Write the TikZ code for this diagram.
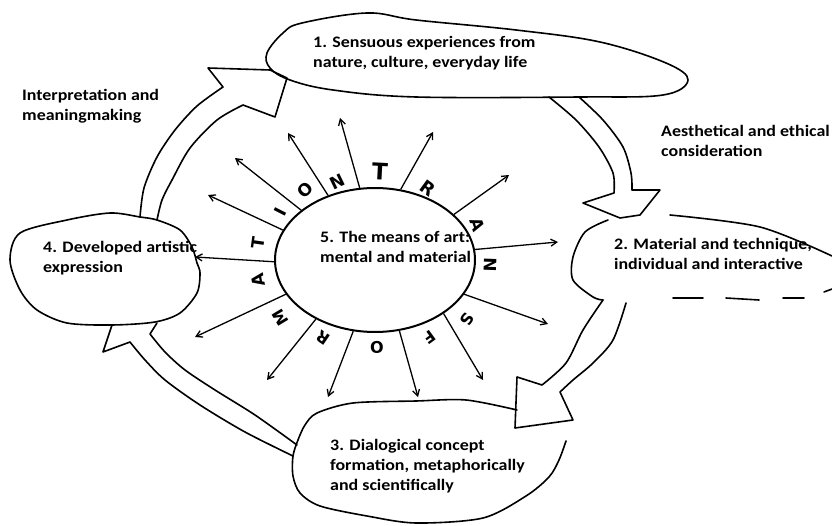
\documentclass[tikz,border=0pt]{standalone}
\usepackage{fontspec}
\setmainfont{Carlito}[FakeStretch=1.12]
\newfontfamily\lettfont{DejaVu Sans}
\usetikzlibrary{arrows.meta,shapes.geometric,positioning}
\tikzset{
  blob/.style = { draw, line width=1.6pt, line join=round, line cap=round },
  ray/.style = { line width=1.3pt, -{Straight Barb[length=6pt,width=7pt]} },
  hub/.style = { draw, ellipse, line width=2pt, minimum width=200pt, minimum height=144pt, inner sep=0pt },
  caption/.style = { align=left, inner sep=0pt, anchor=base west,
    font=\fontsize{16}{20}\selectfont\bfseries },% base = last line
  letter/.style = { inner sep=0pt, font=\lettfont\fontsize{#1}{#1}\selectfont\bfseries }
}
\begin{document}
\begin{tikzpicture}[x=1pt,y=-1pt]
      \useasboundingbox (0,0) rectangle (832,526);
      % 5: the means of art in the middle
      \node[hub] (mean) at (375,260) {};
      \node[caption] (meantext) at (320,263) {5. The means of art:\\mental and material};
      \foreach \a/\x/\y [count=\i] in {102/340/118, 126/288/133, 146/235/158, 162/208/195,
          181/195/257, 201/195/337, 225/267/380, 253/328/397, 289/418/397, 322/483/380,
          339/548/324, 6/558/242, 30/509/175, 70/433/132}{
        \coordinate (tip\i) at (\x,\y);
        \draw[ray] (mean.\a) -- (tip\i);
      }
      \foreach \t/\x/\y/\r/\s [count=\i] in {T/380/172/-3/23, R/428/188/-36/18, A/477/225/-71/17,
          N/490/265/-92/17, S/467/320/-123/16, F/430/337/-144/16, O/377/347/-179/16,
          R/323/338/146/16, M/280/318/121/16, A/258/280/100/17, T/258/243/82/17,
          I/280/212/63/17, O/305/190/45/17, N/337/182/26/17}{
        \node[letter=\s, rotate=\r] (ltr\i) at (\x,\y) {\t};
      }
      % the four stations
      \draw[blob] plot[smooth cycle, tension=0.6] coordinates {(302,23) (367,13) (416,20) (516,30)
          (600,42) (666,63) (688,80) (663,95) (580,97) (416,97) (333,90) (290,80) (270,68) (267,53) (283,33)};
      \draw[blob] plot[smooth] coordinates {(670,215) (760,227) (832,256)};
      \draw[blob] plot[smooth] coordinates {(608,220) (585,232) (573,257) (573,280) (593,297) (603,300)};
      \draw[blob] (673,298) -- (703,298) (726,298) -- (759,300) (783,298) -- (804,298) (824,292) -- (832,289);
      \draw[blob] plot[smooth] coordinates {(566,441) (559,460) (549,477) (526,496) (483,518) (416,523)
          (367,516) (320,506) (300,493) (293,476) (293,456) (298,440) (305,425) (317,413) (353,403)
          (416,401) (466,400) (517,410)};
      \draw[blob] plot[smooth cycle] coordinates {(67,220) (110,213) (140,217) (157,220) (180,230)
          (192,247) (197,263) (200,273) (197,293) (180,313) (155,322) (112,325) (67,323) (37,310)
          (20,290) (10,260) (20,233)};
      \node[caption] (sense) at (313,68) {1. Sensuous experiences from\\nature, culture, everyday life};
      \node[caption] (material) at (614,270) {2. Material and technique,\\individual and interactive};
      \node[caption] (dialog) at (330,490) {3. Dialogical concept\\formation, metaphorically\\and scientifically};
      \node[caption] (express) at (43,273) {4. Developed artistic\\expression};
      % broad arrows of the cycle
      \draw[blob] plot[smooth] coordinates {(140,217) (144,188) (157,157) (175,130) (197,106) (223,87)}
          -- (208,68) -- (270,70) -- (287,78) -- (275,117)
          -- plot[smooth] coordinates {(243,105) (217,120) (190,148) (172,180) (162,200) (157,220)};
      \draw[blob] plot[smooth] coordinates {(549,97) (576,120) (599,147) (613,173) (614,193)}
          -- (583,203) -- (620,218) -- (640,215) -- (660,190)
          -- plot[smooth] coordinates {(632,190) (631,173) (623,147) (603,120) (579,97)};
      \draw[blob] plot[smooth] coordinates {(603,300) (583,330) (566,363) (542,385)}
          -- (517,377) -- (515,428) -- (573,420)
          -- plot[smooth] coordinates {(560,392) (573,380) (593,363) (613,340) (626,303)};
      \draw[blob] plot[smooth] coordinates {(297,445) (255,415) (215,390) (185,370) (165,352) (150,334)} -- (157,323);
      \draw[blob] plot[smooth] coordinates {(293,456) (245,432) (200,405) (165,380) (145,360) (130,342)}
          -- (103,352) -- (112,325);
      \node[caption] (interp) at (22,121) {Interpretation and\\meaningmaking};
      \node[caption] (aesth) at (661,157) {Aesthetical and ethical\\consideration};
\end{tikzpicture}
\end{document}
